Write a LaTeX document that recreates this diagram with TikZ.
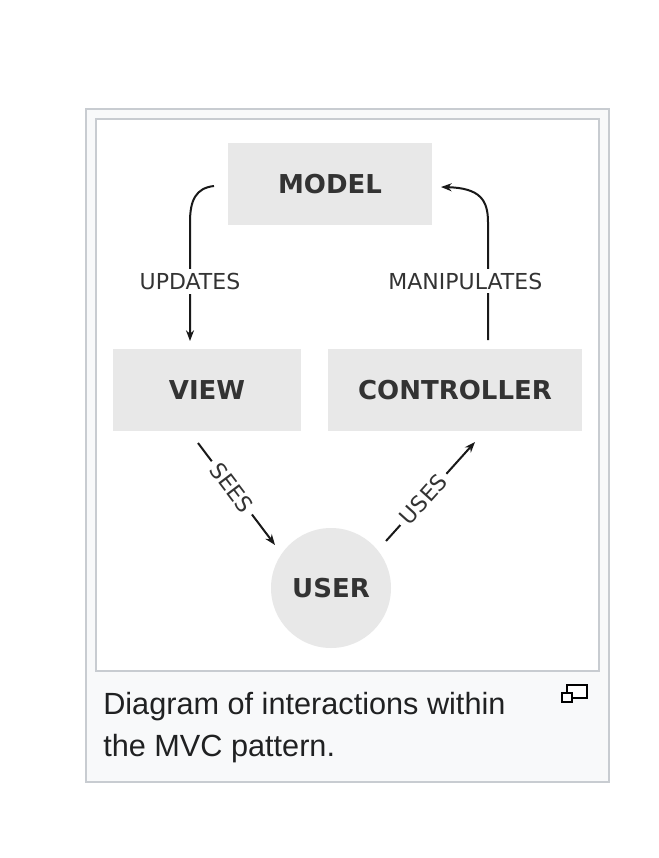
\documentclass[tikz,border=0pt]{standalone}
\usepackage{fontspec}
\setmainfont{Liberation Sans}
\newfontfamily\dvs{DejaVu Sans}
\usetikzlibrary{arrows.meta}
\definecolor{frameg}{HTML}{C8CCD1}
\definecolor{capbg}{HTML}{F8F9FA}
\definecolor{boxg}{HTML}{E8E8E8}
\definecolor{txtg}{HTML}{333333}
\definecolor{captxt}{HTML}{202122}
\tikzset{
  boxnode/.style={fill=boxg, draw=none, inner sep=0pt, text=txtg, font=\dvs\bfseries\fontsize{19.5pt}{22pt}\selectfont},
  lbl/.style={fill=white, inner sep=3pt, text=txtg, font=\dvs\fontsize{16.5pt}{18pt}\selectfont},
  conn/.style={line width=1.5pt, draw=black!90},
  arr/.style={conn, -{Stealth[length=8pt,width=6pt]}},
}
\begin{document}
\begin{tikzpicture}[x=0.75pt,y=-0.75pt]
\useasboundingbox (0,0) rectangle (658,858);
% outer frame
\draw[frameg, line width=1.5pt, fill=capbg] (86,109) rectangle (609,782);
\draw[frameg, line width=1.5pt, fill=white] (96,119) rectangle (599,671);
% boxes
\node[boxnode, minimum width=204*0.75pt, minimum height=82*0.75pt] (model) at (330,184) {MODEL};
\node[boxnode, minimum width=188*0.75pt, minimum height=82*0.75pt] (view) at (207,390) {VIEW};
\node[boxnode, minimum width=254*0.75pt, minimum height=82*0.75pt] (ctrl) at (455,390) {CONTROLLER};
\node[boxnode, circle, minimum size=120*0.75pt] (user) at (331,588) {USER};
% connector end points
\coordinate (ua) at (214,186);
\coordinate (ub) at (190,341);
\coordinate (ma) at (488,340);
\coordinate (mb) at (441,187);
\coordinate (sa) at (198,443);
\coordinate (sb) at (275,545);
\coordinate (usa) at (386,541);
\coordinate (usb) at (475,442);
% UPDATES
\draw[arr] (ua) .. controls (196,188) and (190,200) .. (190,222) -- node[lbl, pos=0.5] (lupd) {UPDATES} (ub);
% MANIPULATES
\draw[arr] (ma) -- node[lbl, pos=0.5, xshift=-17pt] (lman) {MANIPULATES} (488,222) .. controls (488,200) and (480,188) .. (mb);
% SEES
\draw[arr] (sa) -- node[lbl, sloped, pos=0.44, inner sep=4pt] (lsees) {SEES} (sb);
% USES
\draw[arr] (usa) -- node[lbl, sloped, pos=0.42, inner sep=4pt] (luses) {USES} (usb);
% caption
\node[anchor=base west, inner sep=0pt, text=captxt, font=\fontsize{23pt}{31.5pt}\selectfont, align=left] (cap) at (103,756) {Diagram of interactions within\\the MVC pattern.};
% enlarge icon
\draw[line width=1.5pt, fill=white] (567,685) rectangle (587,698);
\draw[line width=1.5pt, fill=white] (562,693) rectangle (572,702);
\end{tikzpicture}
\end{document}
